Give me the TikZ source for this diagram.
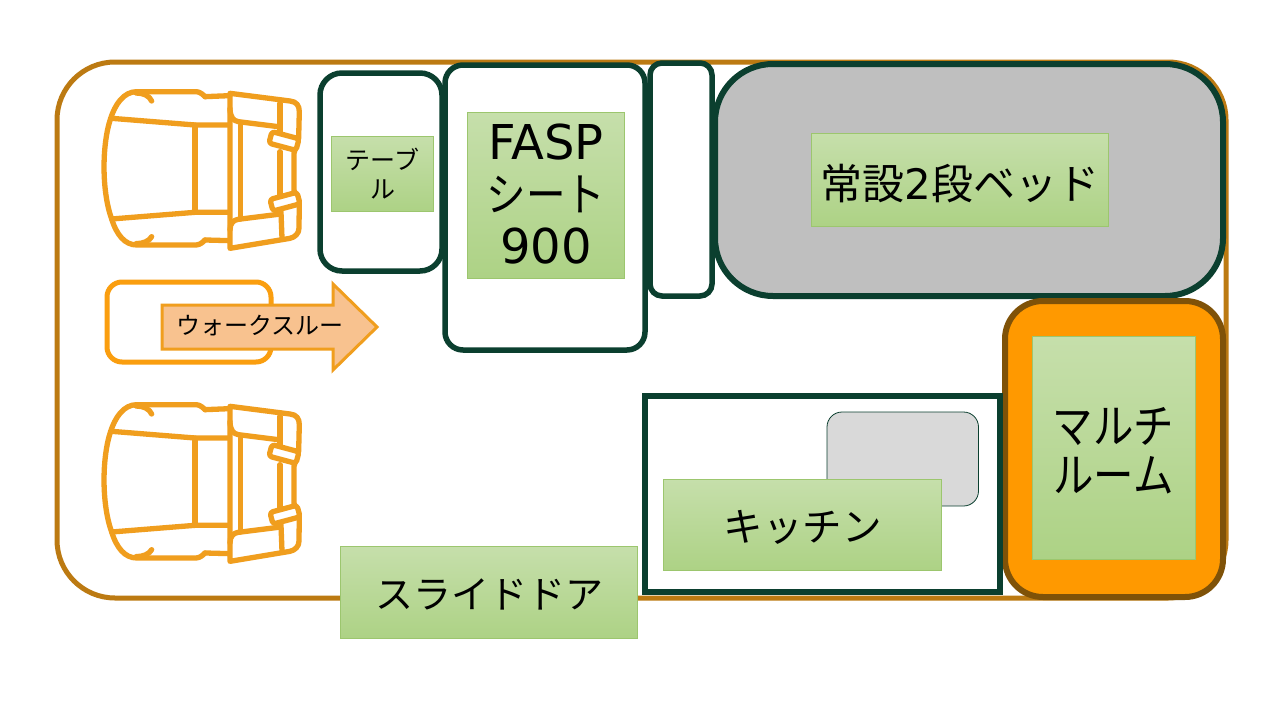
\documentclass[tikz,border=0pt]{standalone}
\usepackage{fontspec}
\setmainfont{Noto Sans CJK JP}
\newfontfamily\latinfont{DejaVu Sans}
\newfontfamily\narrowfont[FakeStretch=0.86]{Noto Sans CJK JP}
\definecolor{outerbrown}{HTML}{BC7A12}
\definecolor{darkgreen}{HTML}{0B3F2F}
\definecolor{carorange}{HTML}{F09E1E}
\definecolor{walkorange}{HTML}{FA9E0F}
\definecolor{multifill}{HTML}{FF9900}
\definecolor{multiline}{HTML}{7F5208}
\definecolor{labeltop}{HTML}{C6DFAB}
\definecolor{labelbot}{HTML}{ADD285}
\definecolor{labelline}{HTML}{9CC66E}
\newcommand{\fsz}[2]{\fontsize{#1}{#2}\selectfont}
\tikzset{
  room/.style={draw=darkgreen,line width=5.5pt,fill=white},
  labelbox/.style={draw=labelline,line width=0.8pt,top color=labeltop,bottom color=labelbot,inner sep=0pt,outer sep=0pt,align=center,text=black},
  carline/.style={draw=carorange,line width=5.3pt,line join=round,line cap=round},
  carpic/.pic={
    \begin{scope}[carline]
      \draw (345,65) .. controls (330,50) and (325,50) .. (310,50) -- (140,50)
        .. controls (100,50) and (75,90) .. (62,130)
        .. controls (35,210) and (35,350) .. (65,432)
        .. controls (80,480) and (105,510) .. (140,510) -- (310,510)
        .. controls (325,510) and (330,510) .. (345,495);
      \draw (345,65) -- (418,62);
      \draw (345,495) -- (418,497);
      \draw (138,54) .. controls (160,54) and (178,62) .. (185,78);
      \draw (138,506) .. controls (160,506) and (178,498) .. (185,485);
      \draw (65,130) -- (315,150) -- (418,150);
      \draw (65,432) -- (315,412) -- (418,412);
      \draw (315,150) -- (315,412);
      \draw (420,55) -- (600,78) .. controls (620,80) and (628,92) .. (628,110)
        -- (626,190) -- (612,235) -- (612,345) -- (628,385)
        -- (627,460) .. controls (627,475) and (615,487) .. (600,490) -- (420,520) -- cycle;
      \draw (452,150) -- (452,432);
      \draw (420,100) .. controls (420,125) and (430,138) .. (445,140) -- (565,155);
      \draw (420,465) .. controls (420,445) and (430,435) .. (445,433) -- (565,418);
      \draw (570,85) -- (570,170);
      \draw (570,230) -- (570,360);
      \draw (573,410) -- (576,488);
      \draw[rounded corners=3pt,fill=white,rotate around={-15:(582,198)}] (540,180) rectangle (624,216);
      \draw[rounded corners=3pt,fill=white,rotate around={15:(585,380)}] (543,362) rectangle (627,398);
    \end{scope}
  }
}
\begin{document}
\begin{tikzpicture}[x=1pt,y=-1pt]
\useasboundingbox (0,0) rectangle (1280,720);
\fill[white] (0,0) rectangle (1280,720);
% body
\draw[draw=outerbrown,line width=5pt,rounded corners=58pt,fill=white] (57,62) rectangle (1226,598);
% seats
\pic[scale=0.3333] at (90,75) {carpic};
\pic[scale=0.3333] at (90,388) {carpic};
% walk-through
\draw[draw=walkorange,line width=5pt,rounded corners=15pt,fill=white] (107,282) rectangle (271,362);
\draw[draw=carorange,line width=3pt,fill={rgb,255:red,248;green,194;blue,143},miter limit=10]
  (162,305) -- (333,305) -- (333,284) -- (377,327) -- (333,370) -- (333,349) -- (162,349) -- cycle;
\node[text=black,font=\fsz{24}{28}] (walk) at (260,326) {ウォークスルー};
% rooms
\draw[room,rounded corners=22pt] (320,73) rectangle (442,271);
\draw[room,rounded corners=18pt] (445,65) rectangle (645,350);
\draw[room,rounded corners=12pt] (650,63) rectangle (712,296);
\draw[draw=darkgreen,line width=6pt,fill={rgb,255:red,191;green,191;blue,191},rounded corners=58pt] (715,64) rectangle (1223,296);
\draw[draw=multiline,line width=6pt,fill=multifill,rounded corners=38pt] (1005,301) rectangle (1223,597);
\draw[room,line width=6pt] (645,396) rectangle (1000,592);
\draw[draw=darkgreen,line width=0.8pt,fill={rgb,255:red,217;green,217;blue,217},rounded corners=15pt] (827,412) rectangle (978.5,506);
% labels
\node[labelbox,minimum width=102.5pt,minimum height=75pt,font=\fsz{25}{29}] (table) at (382.5,173.5) {テーブ\\ル};
\node[labelbox,minimum width=157.5pt,minimum height=166pt] (fasp) at (546,195) {\raisebox{-2pt}[0pt][0pt]{\parbox{150pt}{\centering\fsz{48}{52}{\latinfont FASP}\\{\narrowfont\fsz{46}{52}シート}\\{\latinfont 900}}}};
\node[labelbox,minimum width=297.5pt,minimum height=93pt,font=\fsz{42}{50}] (bed) at (960,179.5) {\raisebox{-19.5pt}[0pt][0pt]{常設{\latinfont 2}段ベッド}};
\node[labelbox,minimum width=163pt,minimum height=223pt] (multi) at (1113.5,447.5) {\raisebox{-6pt}[0pt][0pt]{\parbox{150pt}{\centering\narrowfont\fsz{47}{49}マルチ\\ルーム}}};
\node[labelbox,minimum width=278.5pt,minimum height=91pt,font=\fsz{39.5}{50}] (kitchen) at (802.5,524.5) {\raisebox{-16.5pt}[0pt][0pt]{キッチン}};
\node[labelbox,minimum width=297.5pt,minimum height=92pt,font=\fsz{38}{50}] (door) at (489,592) {\raisebox{-16.5pt}[0pt][0pt]{スライドドア}};
\end{tikzpicture}
\end{document}
